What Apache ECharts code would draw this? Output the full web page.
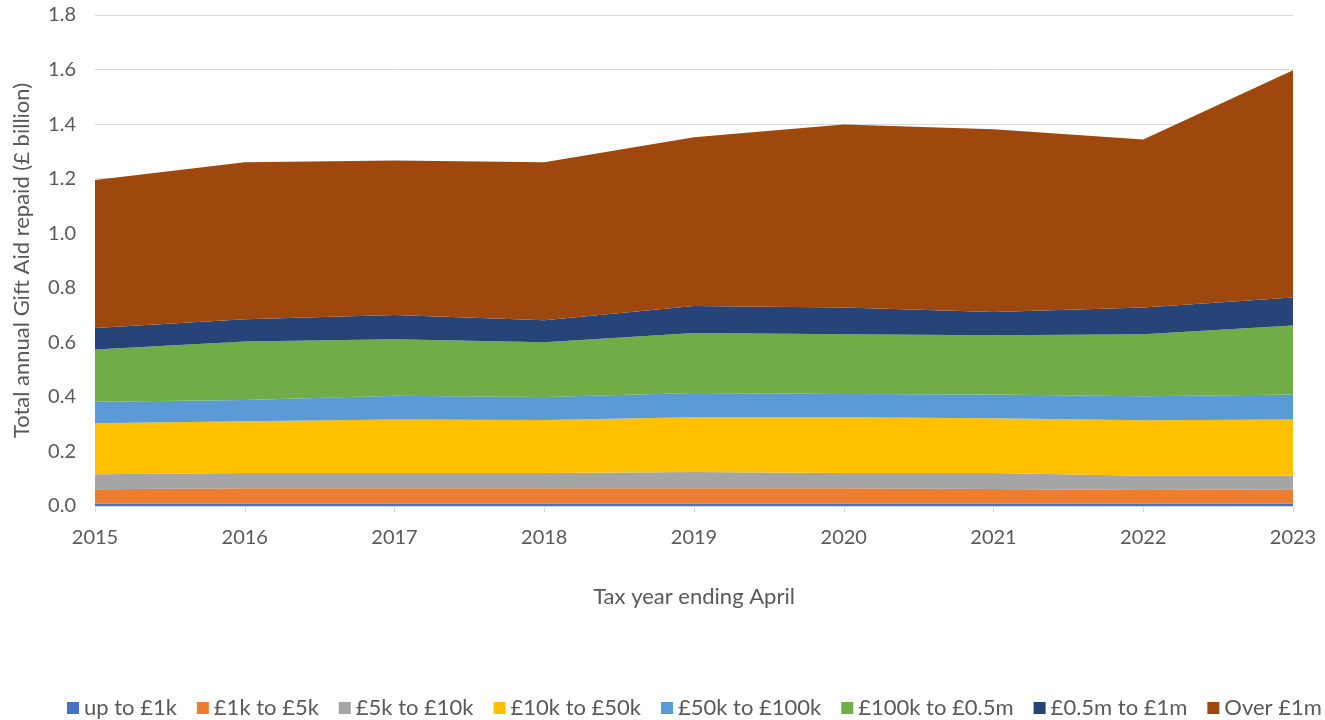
<!DOCTYPE html>
<html>
<head>
<meta charset="utf-8">
<script src="https://cdn.jsdelivr.net/npm/echarts@6/dist/echarts.min.js"></script>
<style>
  html, body { margin: 0; padding: 0; background: #fff; }
  #box { width: 1325px; height: 720px; }
</style>
</head>
<body>
<div id="box"></div>
<script>
// tax years (ending April)
const years = ['2015', '2016', '2017', '2018', '2019', '2020', '2021', '2022', '2023'];

// Gift Aid repaid, £ billion, by donation band
const upTo1k     = [0.008, 0.008, 0.008, 0.008, 0.008, 0.008, 0.008, 0.008, 0.008];
const k1to5      = [0.053, 0.057, 0.057, 0.057, 0.057, 0.057, 0.054, 0.051, 0.053];
const k5to10     = [0.055, 0.056, 0.056, 0.056, 0.060, 0.056, 0.059, 0.052, 0.050];
const k10to50    = [0.187, 0.190, 0.196, 0.194, 0.200, 0.204, 0.201, 0.203, 0.206];
const k50to100   = [0.079, 0.078, 0.087, 0.085, 0.089, 0.086, 0.087, 0.088, 0.092];
const k100to500  = [0.192, 0.214, 0.207, 0.200, 0.220, 0.219, 0.217, 0.228, 0.253];
const m05to1     = [0.079, 0.082, 0.089, 0.081, 0.099, 0.098, 0.085, 0.098, 0.102];
const over1m     = [0.542, 0.575, 0.567, 0.579, 0.619, 0.671, 0.670, 0.616, 0.833];

const bandNames = ['up to £1k', '£1k to £5k', '£5k to £10k', '£10k to £50k',
                   '£50k to £100k', '£100k to £0.5m', '£0.5m to £1m', 'Over £1m'];
const bandData = [upTo1k, k1to5, k5to10, k10to50, k50to100, k100to500, m05to1, over1m];
const colors = ['#4472C4', '#ED7D31', '#A5A5A5', '#FFC000', '#5B9BD5', '#70AD47', '#264478', '#9E480E'];

const chart = echarts.init(document.getElementById('box'));
const font = 'Lato, sans-serif';

chart.setOption({
    color: colors,
    animation: false,
    textStyle: { fontFamily: font },
    grid: { left: 95, right: 32, top: 15, bottom: 214 },
    legend: {
        top: 692,
        left: 62,
        width: 1600,
        itemWidth: 12,
        itemHeight: 12,
        itemGap: 20,
        icon: 'rect',
        textStyle: { fontSize: 22, color: '#595959', fontFamily: font },
        data: bandNames
    },
    xAxis: {
        type: 'category',
        data: years,
        boundaryGap: false,
        name: 'Tax year ending April',
        nameLocation: 'middle',
        nameGap: 80,
        nameTextStyle: { fontSize: 22, color: '#595959' },
        axisLine: { lineStyle: { color: '#d9d9d9', width: 1 } },
        axisTick: { show: true, length: 6, lineStyle: { color: '#d9d9d9' } },
        axisLabel: { fontSize: 20, color: '#595959', margin: 22 }
    },
    yAxis: {
        type: 'value',
        min: 0,
        max: 1.8,
        interval: 0.2,
        name: 'Total annual Gift Aid repaid (£ billion)',
        nameLocation: 'middle',
        nameGap: 62,
        nameTextStyle: { fontSize: 22, color: '#595959' },
        axisLine: { show: false },
        axisTick: { show: false },
        splitLine: { lineStyle: { color: '#d9d9d9' } },
        axisLabel: {
            fontSize: 20,
            color: '#595959',
            margin: 19,
            formatter: v => v.toFixed(1)
        }
    },
    series: bandNames.map((name, i) => ({
        name: name,
        type: 'line',
        stack: 'total',
        data: bandData[i],
        symbol: 'none',
        lineStyle: { width: 0 },
        areaStyle: { opacity: 1 }
    }))
});
</script>
</body>
</html>
